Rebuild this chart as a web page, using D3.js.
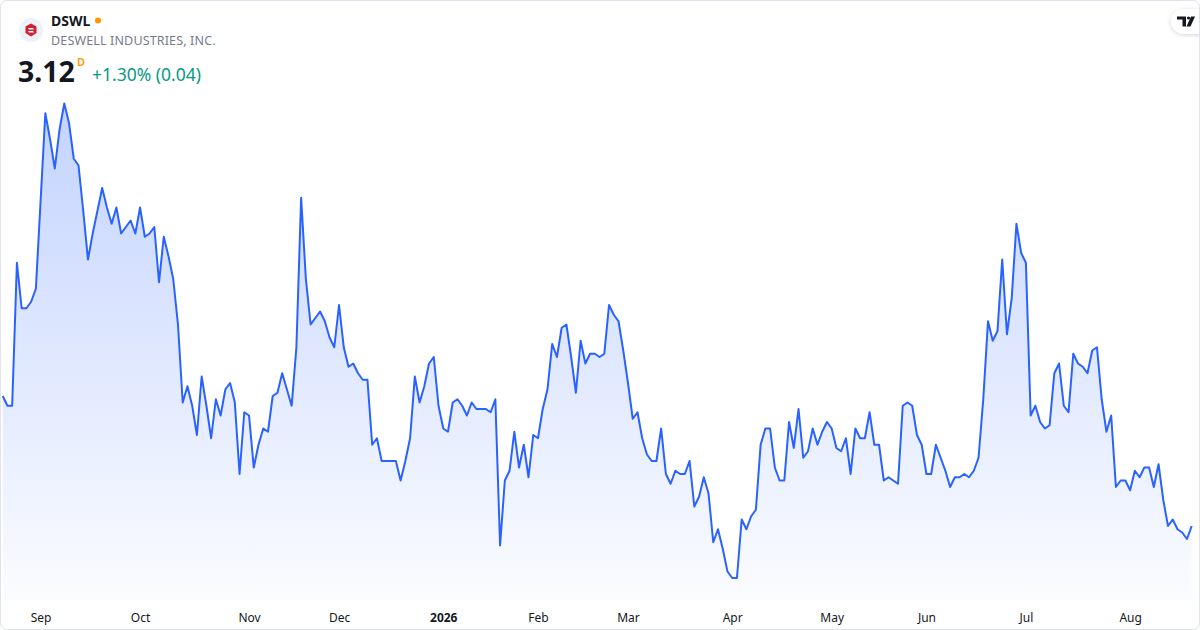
<!DOCTYPE html>
<html>
<head>
<meta charset="utf-8">
<script src="https://cdn.jsdelivr.net/npm/d3@7"></script>
<style>
  html, body { margin: 0; padding: 0; background: #fff; }
  svg { display: block; font-family: "Noto Sans", "Open Sans", sans-serif; }
</style>
</head>
<body>
<svg id="chart" width="1200" height="630"></svg>
<script>
// ---------- Data (daily close, DSWL, Aug 2025 -> Aug 2026) ----------
const closes = [
  3.52, 3.49, 3.49, 3.93, 3.79, 3.79, 3.81, 3.85, 4.12, 4.39,
  4.31, 4.22, 4.34, 4.42, 4.36, 4.25, 4.23, 4.09, 3.94, 4.02,
  4.09, 4.16, 4.10, 4.05, 4.10, 4.02, 4.04, 4.06, 4.02, 4.10,
  4.01, 4.02, 4.04, 3.87, 4.01, 3.95, 3.88, 3.74, 3.50, 3.55,
  3.49, 3.40, 3.58, 3.49, 3.39, 3.51, 3.46, 3.54, 3.56, 3.50,
  3.28, 3.47, 3.46, 3.30, 3.37, 3.42, 3.41, 3.52, 3.53, 3.59,
  3.54, 3.49, 3.67, 4.13, 3.88, 3.74, 3.76, 3.78, 3.75, 3.70,
  3.67, 3.80, 3.67, 3.61, 3.62, 3.59, 3.57, 3.57, 3.37, 3.39,
  3.32, 3.32, 3.32, 3.32, 3.26, 3.32, 3.39, 3.58, 3.50, 3.55,
  3.62, 3.64, 3.49, 3.42, 3.41, 3.50, 3.51, 3.49, 3.46, 3.50,
  3.48, 3.48, 3.48, 3.47, 3.51, 3.06, 3.26, 3.29, 3.41, 3.30,
  3.37, 3.27, 3.40, 3.39, 3.48, 3.54, 3.68, 3.64, 3.73, 3.74,
  3.64, 3.53, 3.69, 3.62, 3.65, 3.65, 3.64, 3.65, 3.80, 3.77,
  3.75, 3.66, 3.56, 3.45, 3.47, 3.39, 3.34, 3.32, 3.32, 3.42,
  3.28, 3.25, 3.29, 3.28, 3.28, 3.32, 3.18, 3.21, 3.27, 3.22,
  3.07, 3.11, 3.05, 2.98, 2.96, 2.96, 3.14, 3.11, 3.15, 3.17,
  3.37, 3.42, 3.42, 3.30, 3.26, 3.26, 3.44, 3.36, 3.48, 3.33,
  3.35, 3.42, 3.37, 3.41, 3.44, 3.42, 3.36, 3.35, 3.39, 3.28,
  3.42, 3.39, 3.39, 3.47, 3.37, 3.37, 3.26, 3.27, 3.26, 3.25,
  3.49, 3.50, 3.49, 3.40, 3.37, 3.28, 3.28, 3.37, 3.33, 3.29,
  3.24, 3.27, 3.27, 3.28, 3.27, 3.29, 3.33, 3.51, 3.75, 3.69,
  3.72, 3.94, 3.71, 3.82, 4.05, 3.96, 3.93, 3.46, 3.49, 3.44,
  3.42, 3.43, 3.59, 3.62, 3.49, 3.47, 3.65, 3.62, 3.61, 3.59,
  3.66, 3.67, 3.51, 3.41, 3.46, 3.24, 3.26, 3.26, 3.23, 3.29,
  3.27, 3.30, 3.30, 3.24, 3.31, 3.20, 3.12, 3.14, 3.11, 3.10,
  3.08, 3.12
];

// month labels and the trading-day index where each month starts
const monthLabels = ["Sep", "Oct", "Nov", "Dec", "2026", "Feb", "Mar", "Apr", "May", "Jun", "Jul", "Aug"];
const monthIndex  = [8, 29, 52, 71, 93, 113, 132, 154, 175, 195, 216, 238];

const symbol = "DSWL";
const company = "DESWELL INDUSTRIES, INC.";
const lastPrice = "3.12";
const change = "+1.30% (0.04)";

// ---------- Layout ----------
const W = 1200, H = 630;
const plotBottom = 600;

const svg = d3.select("#chart");

// x by trading-day index, y by price
const x = d3.scaleLinear().domain([0, closes.length - 1]).range([2.7, 1191.7]);
const y = d3.scaleLinear().domain(d3.extent(closes)).range([578, 103.5]);

// ---------- Defs ----------
const defs = svg.append("defs");
const grad = defs.append("linearGradient")
  .attr("id", "areaFill")
  .attr("gradientUnits", "userSpaceOnUse")
  .attr("x1", 0).attr("y1", 100).attr("x2", 0).attr("y2", plotBottom);
grad.append("stop").attr("offset", 0).attr("stop-color", "#2962ff").attr("stop-opacity", 0.28);
grad.append("stop").attr("offset", 1).attr("stop-color", "#2962ff").attr("stop-opacity", 0.02);

const shadow = defs.append("filter").attr("id", "shadow")
  .attr("x", "-50%").attr("y", "-50%").attr("width", "200%").attr("height", "200%");
shadow.append("feDropShadow")
  .attr("dx", 0).attr("dy", 1).attr("stdDeviation", 2)
  .attr("flood-color", "#000").attr("flood-opacity", 0.18);

defs.append("clipPath").attr("id", "card")
  .append("rect").attr("x", 0.5).attr("y", 0.5)
  .attr("width", W - 1).attr("height", H - 1).attr("rx", 6);

// ---------- Card background ----------
svg.append("rect")
  .attr("x", 0.5).attr("y", 0.5).attr("width", W - 1).attr("height", H - 1)
  .attr("rx", 6).attr("fill", "#fff");

const body = svg.append("g").attr("clip-path", "url(#card)");

// ---------- Area + line ----------
const area = d3.area()
  .x((d, i) => x(i))
  .y0(plotBottom)
  .y1(d => y(d));

const line = d3.line()
  .x((d, i) => x(i))
  .y(d => y(d));

body.append("path")
  .datum(closes)
  .attr("d", area)
  .attr("fill", "url(#areaFill)");

body.append("path")
  .datum(closes)
  .attr("d", line)
  .attr("fill", "none")
  .attr("stroke", "#2962ff")
  .attr("stroke-width", 2)
  .attr("stroke-linejoin", "round");

// ---------- Time axis ----------
const axis = d3.axisBottom(x)
  .tickValues(monthIndex)
  .tickFormat((d, i) => monthLabels[i])
  .tickSize(0)
  .tickPadding(0);

const axisG = body.append("g")
  .attr("transform", `translate(0,${plotBottom + 13})`)
  .call(axis);
axisG.select(".domain").remove();
axisG.selectAll("text")
  .attr("font-family", "Noto Sans, sans-serif")
  .attr("font-size", 12)
  .attr("fill", "#131722")
  .attr("font-weight", (d, i) => monthLabels[i] === "2026" ? 700 : 400);

// ---------- Header ----------
const head = svg.append("g");
head.append("circle").attr("cx", 31).attr("cy", 30).attr("r", 12).attr("fill", "#eef1f8");
// red cube logo
head.append("path")
  .attr("d", "M31,23.5 L36.5,26.5 L36.5,33 L31,36.5 L25.5,33 L25.5,26.5 Z")
  .attr("fill", "#d1202f");
head.append("path")
  .attr("d", "M28,28 L33,28 L34,29.5 L29,29.5 Z M28,31 L33,31 L34,32.5 L29,32.5 Z")
  .attr("fill", "#fff");

head.append("text")
  .attr("x", 51).attr("y", 25.5)
  .attr("font-size", 14).attr("font-weight", 700).attr("fill", "#131722")
  .text(symbol);
head.append("circle").attr("cx", 98).attr("cy", 20.5).attr("r", 3).attr("fill", "#ff9800");

head.append("text")
  .attr("x", 51).attr("y", 45)
  .attr("font-size", 12.5).attr("fill", "#787b86")
  .attr("letter-spacing", 0.15)
  .text(company);

head.append("text")
  .attr("x", 18).attr("y", 82)
  .attr("font-size", 28.5).attr("font-weight", 700).attr("fill", "#131722")
  .text(lastPrice);
head.append("text")
  .attr("x", 77).attr("y", 66)
  .attr("font-size", 11).attr("font-weight", 600).attr("fill", "#ff9800")
  .text("D");
head.append("text")
  .attr("x", 92).attr("y", 80.5)
  .attr("font-size", 17.5).attr("fill", "#089981")
  .text(change);

// ---------- TradingView badge ----------
const tv = svg.append("g");
tv.append("rect")
  .attr("x", 1171).attr("y", 9).attr("width", 40).attr("height", 25).attr("rx", 12.5)
  .attr("fill", "#fff").attr("filter", "url(#shadow)");
tv.append("path")
  .attr("d", "M1177,16.5 L1186,16.5 L1186,26.5 L1182.5,26.5 L1182.5,19.5 L1177,19.5 Z")
  .attr("fill", "#131722");
tv.append("circle").attr("cx", 1188.5).attr("cy", 18).attr("r", 1.6).attr("fill", "#131722");
tv.append("path")
  .attr("d", "M1191,16.5 L1195,16.5 L1190.5,26.5 L1186.5,26.5 Z")
  .attr("fill", "#131722");

// ---------- Card border ----------
svg.append("rect")
  .attr("x", 0.5).attr("y", 0.5).attr("width", W - 1).attr("height", H - 1)
  .attr("rx", 6).attr("fill", "none").attr("stroke", "#e0e3eb");
</script>
</body>
</html>
